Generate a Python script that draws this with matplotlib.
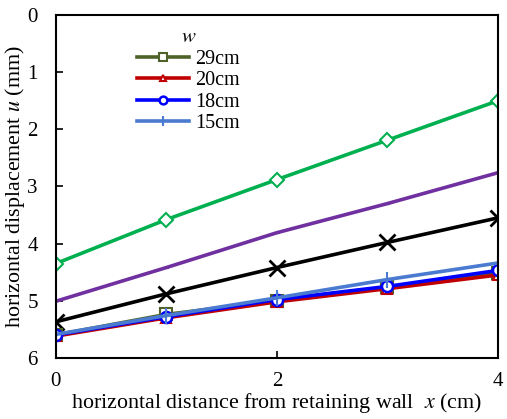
import matplotlib
matplotlib.use('Agg')
import matplotlib.pyplot as plt

plt.rcParams['font.family'] = 'Liberation Serif'
plt.rcParams['mathtext.fontset'] = 'stix'

x = [0, 1, 2, 3, 4]

# displacement u (mm) for each wall height w
u_29 = [5.60, 5.24, 5.00, 4.76, 4.52]
u_20 = [5.62, 5.30, 5.02, 4.79, 4.55]
u_18 = [5.60, 5.28, 4.98, 4.75, 4.47]
u_15 = [5.59, 5.26, 4.95, 4.63, 4.34]
u_black = [5.37, 4.88, 4.42, 3.98, 3.55]
u_purple = [5.01, 4.42, 3.81, 3.30, 2.76]
u_green = [4.35, 3.58, 2.88, 2.19, 1.50]

fig = plt.figure(figsize=(5.07, 4.19), dpi=100)
ax = fig.add_axes([0.110, 0.146, 0.872, 0.818])

lw = 2.6
ax.plot(x, u_green, color='#00B050', lw=lw, marker='D', ms=7,
        mfc='white', mec='#00B050', mew=1.5)
ax.plot(x, u_purple, color='#7030A0', lw=lw, marker='_', ms=5,
        mec='#7030A0', mew=1.5)
ax.plot(x, u_black, color='black', lw=lw, marker='x', ms=11, mew=2)
ax.plot(x, u_29, color='#4F6228', lw=lw, marker='s', ms=8,
        mfc='white', mec='#4F6228', mew=1.5, label='29cm')
ax.plot(x, u_20, color='#C00000', lw=lw, marker='^', ms=7,
        mfc='white', mec='#C00000', mew=1.5, label='20cm')
ax.plot(x, u_18, color='#0000FF', lw=lw, marker='o', ms=8,
        mfc='white', mec='#0000FF', mew=1.8, label='18cm')
ax.plot(x, u_15, color='#4A7BD0', lw=lw, marker='|', ms=11,
        mec='#4A7BD0', mew=1.5, label='15cm')

ax.set_xlim(0, 4)
ax.set_ylim(6, 0)
ax.set_xticks([0, 2, 4])
ax.set_yticks([0, 1, 2, 3, 4, 5, 6])
ax.tick_params(direction='in', labelsize=15, length=5, width=1.2)
ax.tick_params(axis='x', pad=10)
ax.tick_params(axis='y', pad=13)
for s in ax.spines.values():
    s.set_linewidth(1.5)

ax.set_xlabel('horizontal distance from retaining wall  $x$ (cm)', fontsize=15.8, labelpad=0)
ax.set_ylabel('horizontal displacement $u$ (mm)', fontsize=15.8, labelpad=0)

leg = ax.legend(title='$w$', loc='upper left', bbox_to_anchor=(0.165, 0.985),
                frameon=False, fontsize=14.5, title_fontsize=15,
                handlelength=2.6, handletextpad=0.3, labelspacing=0.12,
                markerscale=0.7, borderaxespad=0)

fig.savefig('out.png', dpi=100)
